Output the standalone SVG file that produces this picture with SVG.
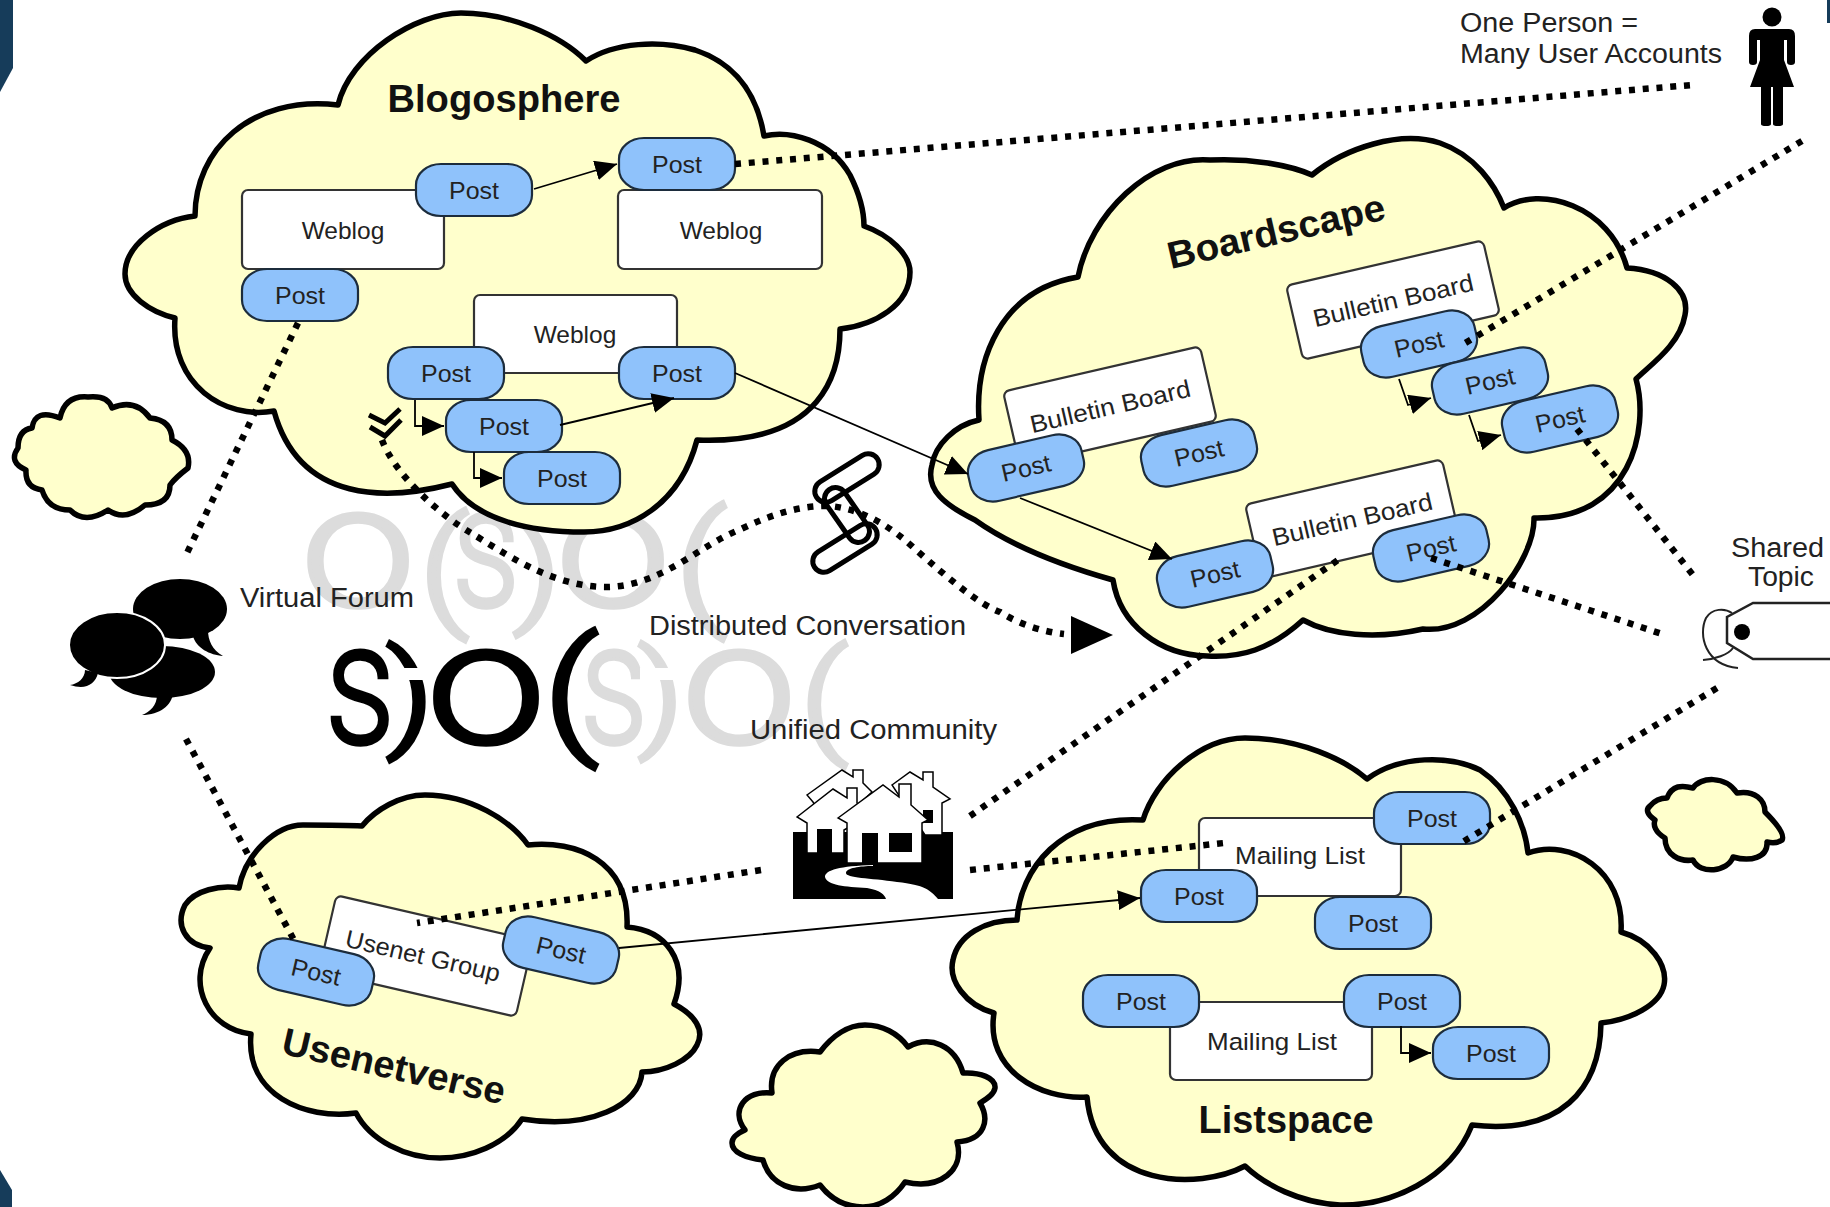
<svg xmlns="http://www.w3.org/2000/svg" width="1830" height="1207" viewBox="0 0 1830 1207">
<style>
.cloud{fill:#ffffcc;stroke:#000;stroke-width:5.500;stroke-linejoin:round}
.box{fill:#fff;stroke:#333;stroke-width:2.2}
.pbody{fill:#8fc2fb;stroke:#1c2c3c;stroke-width:2.2}
text{font-family:"Liberation Sans",Arial,sans-serif;fill:#222;text-anchor:middle}
.t{font-size:24.5px}
.lab{font-size:27px;text-anchor:start}
.title{font-size:38px;font-weight:bold;fill:#111}
.thin{stroke:#000;stroke-width:1.8;fill:none}
.dot{stroke:#000;stroke-width:6.500;stroke-dasharray:6 7.800;fill:none}
.g text,.k text{font-family:Roboto,"Liberation Sans",sans-serif;font-weight:300;stroke-width:3.500}
.g text{fill:#dcdcdc;stroke:#dcdcdc}
.k text{fill:#000;stroke:#000}
.chain{fill:none;stroke:#000;stroke-width:5}
</style>
<defs>
<marker id="ah" viewBox="0 0 22 20" refX="22" refY="10" markerWidth="22" markerHeight="20" markerUnits="userSpaceOnUse" orient="auto"><path d="M0,0L22,10L0,20Z" fill="#000"/></marker>
<g id="p"><rect class="pbody" x="-58" y="-26" width="116" height="52" rx="25" ry="21"/><text class="t" y="8.500" textLength="50" lengthAdjust="spacingAndGlyphs">Post</text></g>
</defs>
<rect width="1830" height="1207" fill="#fff"/>
<g id="corners" fill="#163c5a"><path d="M0,0H13V68L0,92Z"/><path d="M0,1170L12,1190V1207H0Z"/><path d="M1827,0H1830V23H1827Z"/></g>

<g id="logo-back" class="g">
<text transform="translate(358,606) scale(1.2,1)" font-size="172">o</text>
<text transform="translate(444,612) scale(1.25,1)" font-size="130">(</text>
<text transform="translate(486,606) scale(.78,1)" font-size="172">s</text>
<text transform="translate(537,610) scale(1.3,1)" font-size="118">)</text>
<text transform="translate(613,606) scale(1.2,1)" font-size="172">o</text>
<text transform="translate(701,610) scale(1.25,1)" font-size="135">(</text>
<text transform="translate(614,743) scale(.78,1)" font-size="172">s</text>
<text transform="translate(661,735) scale(1.25,1)" font-size="116">)</text>
<text transform="translate(739,743) scale(1.2,1)" font-size="172">o</text>
<text transform="translate(824,740) scale(1.25,1)" font-size="125">(</text>
<rect x="640" y="668" width="40" height="12" fill="#fff"/>
</g>
<g id="logo" class="k">
<text transform="translate(360,743) scale(.8,1)" font-size="172">s</text>
<text transform="translate(410,735) scale(1.3,1)" font-size="116">)</text>
<rect x="390" y="668" width="40" height="12" fill="#fff"/>
<text transform="translate(486,743) scale(1.25,1)" font-size="172">o</text>
<text transform="translate(571,738) scale(1.3,1)" font-size="138">(</text>
</g>

<g id="blogosphere">
<path class="cloud" d="M338,105C350,55 415,13 461,13C510,13 560,35 586,61C615,42 660,40 695,50C740,65 758,100 764,136C790,130 830,140 850,175C860,195 864,210 864,226C890,235 910,255 910,272C910,305 875,325 840,329C840,370 825,445 697,440C680,505 630,532 584,532C530,532 475,520 452,484C390,500 300,505 274,411C225,420 170,385 175,318C150,312 125,295 125,274C125,245 160,220 195,216C195,150 250,95 338,105Z"/>
<text class="title" x="504" y="112" textLength="233" lengthAdjust="spacingAndGlyphs">Blogosphere</text>
<g id="weblog1"><rect class="box" x="242" y="190" width="202" height="79" rx="6"/><text class="t" x="343" y="239">Weblog</text></g>
<g id="weblog2"><rect class="box" x="618" y="190" width="204" height="79" rx="6"/><text class="t" x="721" y="239">Weblog</text></g>
<g id="weblog3"><rect class="box" x="474" y="295" width="203" height="78" rx="6"/><text class="t" x="575" y="343">Weblog</text></g>
<use id="post-b1" href="#p" x="474" y="190"/>
<use id="post-b2" href="#p" x="677" y="164"/>
<use id="post-b3" href="#p" x="300" y="295"/>
<use id="post-b4" href="#p" x="446" y="373"/>
<use id="post-b5" href="#p" x="677" y="373"/>
<use id="post-b6" href="#p" x="504" y="426"/>
<use id="post-b7" href="#p" x="562" y="478"/>
</g>

<g id="boardscape">
<path class="cloud" d="M1312,175C1345,148 1400,130 1440,143C1475,155 1495,185 1504,208C1540,185 1610,205 1627,268C1665,270 1690,290 1685,315C1680,345 1650,365 1636,379C1650,430 1630,520 1534,518C1535,560 1480,635 1423,629C1375,640 1330,635 1303,620C1270,650 1240,658 1207,656C1160,655 1120,625 1113,580C1060,565 1010,545 975,520C945,505 925,490 932,465C935,445 955,425 979,420C975,360 1000,290 1078,277C1090,215 1150,155 1210,160C1250,158 1290,165 1312,175Z"/>
<text class="title" transform="translate(1279,244) rotate(-13)" textLength="222" lengthAdjust="spacingAndGlyphs">Boardscape</text>
<g id="board1" transform="translate(1110,406) rotate(-13)"><rect class="box" x="-101" y="-38" width="202" height="76" rx="6"/><text class="t" y="9" textLength="164" lengthAdjust="spacingAndGlyphs">Bulletin Board</text></g>
<g id="board2" transform="translate(1393,300) rotate(-13)"><rect class="box" x="-101" y="-38" width="202" height="76" rx="6"/><text class="t" y="9" textLength="164" lengthAdjust="spacingAndGlyphs">Bulletin Board</text></g>
<g id="board3" transform="translate(1352,519) rotate(-13)"><rect class="box" x="-101" y="-38" width="202" height="76" rx="6"/><text class="t" y="9" textLength="164" lengthAdjust="spacingAndGlyphs">Bulletin Board</text></g>
<use id="post-s1" href="#p" transform="translate(1026,468) rotate(-13)"/>
<use id="post-s2" href="#p" transform="translate(1199,453) rotate(-13)"/>
<use id="post-s3" href="#p" transform="translate(1215,574) rotate(-13)"/>
<use id="post-s4" href="#p" transform="translate(1431,548) rotate(-13)"/>
<use id="post-s5" href="#p" transform="translate(1419,344) rotate(-13)"/>
<use id="post-s6" href="#p" transform="translate(1490,381) rotate(-13)"/>
<use id="post-s7" href="#p" transform="translate(1560,419) rotate(-13)"/>
</g>

<g id="usenetverse">
<path class="cloud" d="M239,888C245,855 275,825 303,825C325,825 345,825 362,826C375,810 400,795 425,795C470,795 510,820 528,845C575,840 630,860 627,927C665,930 690,960 674,1004C695,1015 705,1030 697,1045C690,1060 665,1072 642,1072C640,1105 590,1130 522,1119C505,1145 470,1158 440,1158C405,1158 370,1140 356,1113C305,1120 245,1095 251,1034C210,1030 185,985 210,948C185,945 175,925 185,905C195,890 220,885 239,888Z"/>
<g id="usenetgroup" transform="translate(426,956) rotate(13)"><rect class="box" x="-101" y="-39" width="202" height="78" rx="6"/><text class="t" x="-3" y="9" textLength="158" lengthAdjust="spacingAndGlyphs">Usenet Group</text></g>
<use id="post-u1" href="#p" transform="translate(316,972) rotate(13)"/>
<use id="post-u2" href="#p" transform="translate(561,950) rotate(13)"/>
<text class="title" transform="translate(391,1079) rotate(13)" textLength="228" lengthAdjust="spacingAndGlyphs">Usenetverse</text>
</g>

<g id="listspace">
<path class="cloud" d="M1017,920C1020,870 1060,815 1143,820C1155,780 1200,738 1245,738C1300,738 1345,760 1367,779C1400,755 1450,755 1480,770C1510,790 1525,825 1528,853C1570,838 1625,870 1621,932C1650,940 1668,965 1664,985C1660,1005 1630,1020 1601,1023C1600,1090 1560,1135 1472,1125C1450,1180 1390,1206 1340,1205C1300,1203 1265,1185 1245,1166C1200,1190 1095,1190 1087,1097C1040,1100 985,1070 994,1013C965,1005 948,980 953,960C958,935 985,920 1017,920Z"/>
<g id="list1"><rect class="box" x="1199" y="818" width="202" height="78" rx="6"/><text class="t" x="1300" y="864" textLength="130" lengthAdjust="spacingAndGlyphs">Mailing List</text></g>
<g id="list2"><rect class="box" x="1170" y="1002" width="202" height="78" rx="6"/><text class="t" x="1272" y="1050" textLength="130" lengthAdjust="spacingAndGlyphs">Mailing List</text></g>
<use id="post-l1" href="#p" x="1432" y="818"/>
<use id="post-l2" href="#p" x="1199" y="896"/>
<use id="post-l3" href="#p" x="1373" y="923"/>
<use id="post-l4" href="#p" x="1141" y="1001"/>
<use id="post-l5" href="#p" x="1402" y="1001"/>
<use id="post-l6" href="#p" x="1491" y="1053"/>
<text class="title" x="1286" y="1133" textLength="175" lengthAdjust="spacingAndGlyphs">Listspace</text>
</g>

<g id="small-cloud-left"><path class="cloud" d="M60,418Q65,395 88,397Q108,395 112,408Q135,398 150,418Q172,420 172,440Q192,450 188,468Q175,478 170,485Q170,505 145,505Q125,522 108,510Q85,525 70,510Q48,510 42,490Q25,488 26,470Q8,462 18,448Q18,430 32,428Q35,408 60,418Z"/></g>
<g id="small-cloud-mid"><path class="cloud" d="M772,1093C768,1065 790,1048 820,1052C832,1036 848,1025 865,1025C882,1025 898,1033 908,1047C930,1035 955,1045 963,1073C980,1072 996,1078 995,1088C994,1094 988,1098 980,1103C990,1120 985,1140 957,1142C965,1170 940,1190 905,1182C895,1197 880,1207 863,1207C845,1207 830,1198 820,1185C795,1195 770,1185 763,1160C745,1158 732,1152 732,1143C732,1137 738,1133 745,1130C730,1110 745,1090 772,1093Z"/></g>
<g id="small-cloud-right"><path class="cloud" d="M1667,798C1672,785 1682,785 1693,788C1700,777 1725,775 1737,793C1755,790 1765,800 1765,812C1778,825 1785,835 1782,840C1778,843 1772,843 1767,842C1768,858 1750,862 1733,857C1728,872 1700,875 1693,860C1680,862 1665,855 1665,838C1655,832 1653,825 1655,820C1648,815 1645,810 1650,806C1655,800 1660,798 1667,798Z"/></g>

<g id="person">
<circle cx="1772" cy="17" r="9.500" fill="#000"/>
<path fill="#000" d="M1755,29H1789Q1795,29 1795,36V62Q1795,65 1791,65Q1787,65 1787,62V40H1784V60L1794,87H1783V124Q1783,126 1778,126Q1773,126 1773,124V87H1771V124Q1771,126 1766,126Q1761,126 1761,124V87H1750L1760,60V40H1757V62Q1757,65 1753,65Q1749,65 1749,62V36Q1749,29 1755,29Z"/>
<text class="lab" x="1460" y="32" textLength="178" lengthAdjust="spacingAndGlyphs">One Person =</text>
<text class="lab" x="1460" y="63" textLength="262" lengthAdjust="spacingAndGlyphs">Many User Accounts</text>
</g>

<g id="virtual-forum">
<ellipse cx="180" cy="609" rx="47" ry="30" fill="#000"/>
<path fill="#000" d="M193,636C196,648 210,655 223,656C212,650 208,640 208,630Z"/>
<ellipse cx="162" cy="672" rx="53" ry="26" fill="#000"/>
<path fill="#000" d="M157,695C157,705 150,712 142,715C160,715 172,705 173,693Z"/>
<ellipse cx="117" cy="645" rx="48" ry="33" fill="#000" stroke="#fff" stroke-width="2"/>
<path fill="#000" d="M85,670C85,678 78,684 70,685C85,690 95,685 98,673Z"/>
<text class="lab" x="240" y="607" textLength="174" lengthAdjust="spacingAndGlyphs">Virtual Forum</text>
</g>

<g id="distributed-conversation">
<rect class="chain" x="811" y="467" width="72" height="22" rx="11" transform="rotate(-32 847 478)"/>
<rect class="chain" x="816" y="504" width="62" height="22" rx="11" transform="rotate(55 847 515)"/>
<rect class="chain" x="809" y="537" width="72" height="22" rx="11" transform="rotate(-32 845 548)"/>
<text class="lab" x="649" y="635" textLength="317" lengthAdjust="spacingAndGlyphs">Distributed Conversation</text>
</g>

<g id="unified-community">
<rect x="793" y="832" width="160" height="67" fill="#000"/>
<path fill="#fff" stroke="#000" stroke-width="1.500" d="M807,795L842,770L853,777V770H863V783L872,792L830,830L813,802Z"/>
<path fill="#fff" stroke="#000" stroke-width="1.500" d="M892,785L910,772L923,780V772H933V787L950,799L942,803V835H925Z"/>
<rect x="923" y="810" width="10" height="13" fill="#000"/>
<path fill="#fff" stroke="#000" stroke-width="1.500" d="M797,817L833,789L847,798V788H857V803L870,815L844,830V853H807V823Z"/>
<rect x="817" y="829" width="15" height="25" fill="#000"/>
<path fill="#fff" stroke="#000" stroke-width="1.500" d="M838,818L883,785L899,797V784H911V805L928,820L922,823V863H847V823Z"/>
<rect x="862" y="833" width="16" height="32" fill="#000"/>
<rect x="889" y="833" width="23" height="19" fill="#000"/>
<rect x="805" y="853" width="42" height="12" fill="#000"/>
<path fill="#fff" d="M873,865C840,866 825,870 825,877C827,885 845,887 867,888C880,890 885,895 886,899H938C930,890 925,885 897,882C870,878 846,878 846,873C846,868 860,866 873,866Z"/>
<text class="lab" x="750" y="739" textLength="247" lengthAdjust="spacingAndGlyphs">Unified Community</text>
</g>

<g id="shared-topic">
<path fill="none" stroke="#222" stroke-width="2.500" d="M1830,603H1753L1727,617V643L1753,659H1830"/>
<circle cx="1742" cy="632" r="8" fill="#000"/>
<path fill="none" stroke="#222" stroke-width="2" d="M1732,613C1725,608 1712,608 1706,618C1698,635 1705,665 1738,668"/>
<path fill="none" stroke="#222" stroke-width="2" d="M1703,660C1715,659 1728,655 1733,648"/>
<text class="lab" x="1731" y="557" textLength="93" lengthAdjust="spacingAndGlyphs">Shared</text>
<text class="lab" x="1748" y="586" textLength="66" lengthAdjust="spacingAndGlyphs">Topic</text>
</g>

<g id="connectors">
<g class="thin">
<path marker-end="url(#ah)" d="M534,189L617,164"/>
<path marker-end="url(#ah)" d="M560,425L674,398"/>
<path marker-end="url(#ah)" d="M415,400V426H444"/>
<path marker-end="url(#ah)" d="M474,452V478H502"/>
<path marker-end="url(#ah)" d="M735,373L968,474"/>
<path marker-end="url(#ah)" d="M1020,498L1172,559"/>
<path marker-end="url(#ah)" d="M1399,379L1408,405L1431,398"/>
<path marker-end="url(#ah)" d="M1469,415L1478,441L1501,435"/>
<path marker-end="url(#ah)" d="M619,948L1140,898"/>
<path marker-end="url(#ah)" d="M1401,1026V1053H1431"/>
</g>
<g class="dot">
<path d="M735,164L1692,85"/>
<path d="M298,323L187,553"/>
<path d="M1802,141L1462,345"/>
<path d="M1577,429L1697,580"/>
<path d="M1431,558L1662,634"/>
<path d="M970,816L1338,560"/>
<path d="M970,870L1224,843"/>
<path d="M1717,688L1461,843"/>
<path d="M186,739L295,942"/>
<path d="M761,870L417,923"/>
<path d="M382,440C395,475 440,515 471,533C500,550 550,587 606,587C660,587 700,545 739,530C770,515 800,505 830,506C870,510 900,535 915,549C950,580 980,605 1000,612C1020,625 1045,632 1064,634"/>
</g>
<path d="M1071,616L1113,635L1071,654Z" fill="#000"/>
<path d="M369,415L385,423L400,409M370,427L385,436L401,420" fill="none" stroke="#000" stroke-width="5"/>
</g>
</svg>
